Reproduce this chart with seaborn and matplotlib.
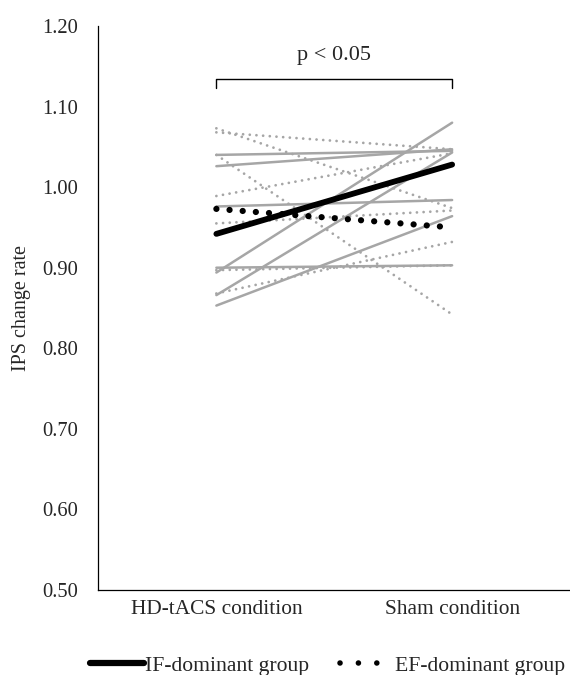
import numpy as np
import pandas as pd
import seaborn as sns
import matplotlib.pyplot as plt
from matplotlib.lines import Line2D

conditions = ['HD-tACS condition', 'Sham condition']

# individual subjects
if_hdtacs = [1.040, 1.026, 0.976, 0.900, 0.894, 0.866, 0.853]
if_sham = [1.045, 1.047, 0.984, 0.903, 1.080, 1.043, 0.964]
ef_hdtacs = [1.073, 1.068, 1.040, 0.989, 0.955, 0.897, 0.868]
ef_sham = [0.974, 1.047, 0.842, 1.042, 0.971, 0.903, 0.932]

# group mean lines
if_mean = [0.942, 1.028]
ef_mean = [0.973, 0.950]

sig_text = 'p < 0.05'

sns.set_theme(style='white')
plt.rcParams['font.family'] = ['Liberation Serif', 'DejaVu Serif']

rows = []
for i, (a, b) in enumerate(zip(if_hdtacs, if_sham)):
    rows.append(('IF', 'IF%d' % i, 0, a))
    rows.append(('IF', 'IF%d' % i, 1, b))
for i, (a, b) in enumerate(zip(ef_hdtacs, ef_sham)):
    rows.append(('EF', 'EF%d' % i, 0, a))
    rows.append(('EF', 'EF%d' % i, 1, b))
df = pd.DataFrame(rows, columns=['group', 'subject', 'cond', 'value'])

means = pd.DataFrame({
    'group': ['IF', 'IF', 'EF', 'EF'],
    'cond': [0, 1, 0, 1],
    'value': if_mean + ef_mean,
})

fig = plt.figure(figsize=(5.7, 6.75), dpi=100)
ax = fig.add_axes([0.1728, 0.1259, 0.8272, 0.8356])

gray = '#a6a6a6'
gray_dots = (0, (0.01, 2.4))
black_dots = (0, (0.01, 2.1))

# individual lines
sns.lineplot(data=df[df.group == 'IF'], x='cond', y='value', units='subject',
             estimator=None, color=gray, lw=1.8, ax=ax, legend=False)
sns.lineplot(data=df[df.group == 'EF'], x='cond', y='value', units='subject',
             estimator=None, color=gray, lw=2.0, ax=ax, legend=False,
             linestyle=gray_dots, dash_capstyle='round')

# mean lines
sns.lineplot(data=means[means.group == 'IF'], x='cond', y='value',
             color='black', lw=4.2, ax=ax, legend=False, solid_capstyle='round')
sns.lineplot(data=means[means.group == 'EF'], x='cond', y='value',
             color='black', lw=4.5, ax=ax, legend=False,
             linestyle=black_dots, dash_capstyle='round')

# significance bracket
bracket_top = 1.134
bracket_tick = 0.011
ax.plot([0, 0, 1, 1], [bracket_top - bracket_tick, bracket_top, bracket_top, bracket_top - bracket_tick],
        color='black', lw=1.0)
ax.text(0.5, 1.163, sig_text, ha='center', va='center', fontsize=16)

ax.set_xlim(-0.5, 1.5)
ax.set_ylim(0.5, 1.2)
ax.set_xticks([0, 1])
ax.set_xticklabels(conditions, fontsize=15.4)
ax.set_yticks(np.arange(0.5, 1.21, 0.1))
ax.set_yticklabels(['%.2f' % v for v in np.arange(0.5, 1.21, 0.1)], fontsize=14.8)
ax.tick_params(axis='y', length=0, pad=15)
ax.tick_params(axis='x', length=0, pad=7)
ax.set_xlabel('')
ax.set_ylabel('IPS change rate', fontsize=14.5, labelpad=8)
sns.despine(ax=ax)
for s in ['left', 'bottom']:
    ax.spines[s].set_color('black')
    ax.spines[s].set_linewidth(0.9)

handles = [
    Line2D([], [], color='black', lw=4.5, solid_capstyle='round'),
    Line2D([], [], color='black', lw=4.0, linestyle=(0, (0.01, 3.3)), dash_capstyle='round'),
]
fig.legend(handles, ['IF-dominant group', 'EF-dominant group'], ncol=2,
           loc='lower center', bbox_to_anchor=(0.575, -0.03), frameon=False,
           fontsize=15.6, handlelength=2.5, handletextpad=0.05, columnspacing=1.4)

fig.savefig('out.png', dpi=100)
